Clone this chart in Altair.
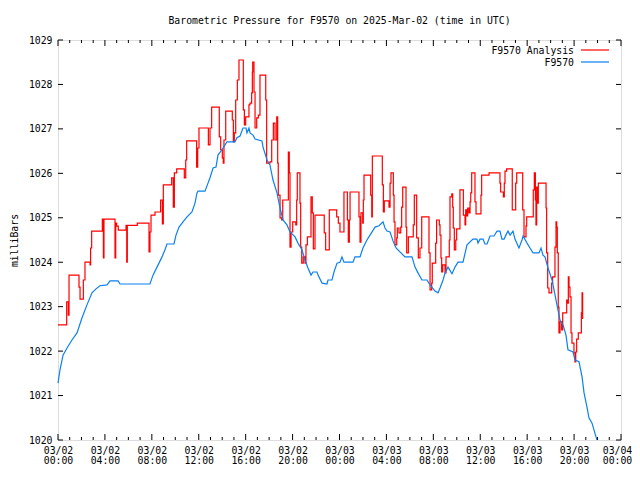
import altair as alt
import pandas as pd

FONT = "DejaVu Sans Mono"
FS = 9.8

# F9570 Analysis (step series): hours since 03/02 00:00 UTC, millibars
analysis_hours = [
    0, 0.74, 0.88, 0.94, 1.79, 1.88, 2.16, 2.30, 2.73, 2.78, 2.87, 3.78, 3.87, 3.92, 4.86, 4.92,
    5.00, 5.14, 5.80, 5.86, 5.91, 6.76, 7.76, 7.84, 7.93, 8.27, 8.75, 8.90, 8.98, 9.69, 9.83, 9.92,
    10.12, 10.77, 10.89, 10.97, 11.82, 11.91, 12.02, 12.82, 12.96, 13.10, 13.75, 13.87, 14.01, 14.09,
    14.15, 14.30, 14.86, 14.95, 15.03, 15.15, 15.29, 15.43, 15.80, 15.89, 16.00, 16.28, 16.37, 16.51,
    16.57, 16.60, 16.71, 16.80, 16.94, 17.08, 17.22, 17.71, 17.79, 18.07, 18.22, 18.36, 18.50, 18.65,
    18.73, 18.78, 18.93, 19.07, 19.16, 19.64, 19.72, 19.78, 19.87, 20.01, 20.27, 20.35, 20.40, 20.63,
    20.69, 20.78, 20.91, 21.06, 21.14, 21.26, 21.57, 21.68, 21.77, 21.91, 22.70, 22.82, 23.13, 23.76,
    23.90, 24.04, 24.38, 24.67, 24.75, 24.84, 24.90, 25.66, 25.75, 25.83, 25.98, 26.03, 26.09, 26.66,
    26.75, 26.80, 27.65, 27.74, 27.82, 28.22, 28.31, 28.39, 28.59, 28.65, 28.73, 28.88, 28.93, 29.07,
    29.22, 29.30, 29.39, 29.67, 29.73, 29.87, 30.29, 30.38, 30.58, 30.72, 30.86, 31.01, 31.63, 31.72,
    31.86, 31.91, 32.20, 32.28, 32.51, 32.57, 32.65, 32.71, 32.80, 33.00, 33.08, 33.36, 33.42, 33.57,
    33.65, 33.70, 33.79, 33.91, 33.99, 34.27, 34.56, 34.70, 34.76, 34.84, 34.93, 35.04, 35.13, 35.19,
    35.27, 35.55, 35.64, 36.06, 36.12, 36.75, 37.68, 37.74, 37.97, 38.05, 38.11, 38.25, 38.73, 39.02,
    39.11, 39.62, 39.73, 39.90, 39.96, 40.52, 40.61, 40.70, 40.75, 40.81, 40.86, 40.95, 41.61, 41.66,
    41.75, 41.86, 42.09, 42.17, 42.37, 42.46, 42.52, 42.57, 42.65, 42.71, 42.80, 42.94, 43.03, 43.37,
    43.42, 43.51, 43.57, 43.65, 43.74, 43.82, 43.99, 44.08, 44.14, 44.22, 44.36, 44.62, 44.68, 44.73,
]
analysis_mbar = [
    1022.59, 1023.11, 1022.81, 1023.71, 1023.44, 1023.17, 1023.60, 1024.00, 1023.94, 1024.32, 1024.70,
    1024.97, 1024.10, 1024.97, 1024.10, 1024.88, 1024.81, 1024.72, 1024.83, 1024.00, 1024.83, 1024.88,
    1024.23, 1024.68, 1025.06, 1025.13, 1025.40, 1024.86, 1025.74, 1025.90, 1025.24, 1026.01, 1026.10,
    1025.90, 1026.30, 1026.73, 1026.14, 1026.57, 1027.02, 1026.64, 1027.02, 1027.49, 1026.82, 1026.53,
    1026.35, 1026.23, 1026.75, 1027.40, 1027.20, 1026.71, 1026.91, 1027.65, 1028.10, 1028.55, 1027.43,
    1027.09, 1027.27, 1027.54, 1027.58, 1027.81, 1028.28, 1028.50, 1027.83, 1027.02, 1027.25, 1027.31,
    1028.21, 1027.65, 1026.23, 1026.26, 1026.75, 1027.13, 1026.75, 1027.27, 1026.23, 1025.51, 1025.00,
    1024.95, 1025.40, 1026.48, 1026.01, 1024.34, 1024.68, 1024.91, 1024.84, 1025.40, 1026.01, 1025.33,
    1024.34, 1023.98, 1024.12, 1023.98, 1024.39, 1024.57, 1025.47, 1025.11, 1024.30, 1025.06, 1024.66,
    1024.28, 1025.18, 1025.02, 1024.88, 1024.68, 1025.58, 1024.95, 1024.45, 1024.95, 1025.58, 1025.02,
    1024.45, 1025.11, 1024.88, 1025.40, 1025.96, 1025.51, 1025.02, 1026.39, 1025.74, 1025.13, 1025.38,
    1025.24, 1025.78, 1026.01, 1025.51, 1024.91, 1024.39, 1024.55, 1024.77, 1024.66, 1024.79, 1025.24,
    1025.69, 1024.79, 1024.21, 1024.57, 1024.84, 1025.51, 1024.55, 1024.10, 1024.32, 1025.02, 1024.21,
    1023.38, 1023.53, 1023.98, 1024.43, 1024.95, 1024.84, 1024.61, 1024.10, 1023.78, 1023.94, 1023.76,
    1024.12, 1024.50, 1025.47, 1025.54, 1025.24, 1024.77, 1024.28, 1024.50, 1024.75, 1025.63, 1025.06,
    1024.84, 1025.18, 1025.04, 1025.22, 1025.11, 1025.36, 1025.56, 1026.01, 1025.36, 1025.09, 1025.51,
    1025.96, 1026.01, 1025.78, 1025.58, 1025.47, 1025.78, 1026.05, 1026.10, 1025.18, 1025.78, 1026.01,
    1025.18, 1024.57, 1024.82, 1025.02, 1025.63, 1026.01, 1025.40, 1024.84, 1025.69, 1025.33, 1025.78,
    1025.22, 1024.21, 1023.42, 1023.31, 1023.53, 1023.67, 1024.34, 1024.91, 1024.79, 1024.21, 1022.99,
    1022.41, 1022.66, 1022.48, 1022.86, 1023.15, 1023.08, 1023.67, 1023.44, 1023.22, 1022.41, 1022.18,
    1021.96, 1021.76, 1021.98, 1022.27, 1022.41, 1022.86, 1023.31, 1022.72,
]

# F9570 observed
station_hours = [
    0, 0.17, 0.43, 0.77, 1.19, 1.62, 2.05, 2.47, 2.90, 3.24, 3.58, 4.18, 4.43, 5.12, 5.29, 7.84,
    8.10, 8.44, 8.87, 9.12, 9.29, 9.89, 10.06, 10.32, 10.66, 11.00, 11.42, 11.68, 11.85, 11.94, 12.53,
    12.79, 12.96, 13.22, 13.47, 13.64, 13.98, 14.24, 14.41, 15.09, 15.26, 15.52, 15.77, 16.03, 16.11,
    16.28, 16.37, 16.63, 16.80, 17.39, 17.48, 17.82, 18.07, 18.33, 18.67, 18.93, 19.18, 19.52, 19.78,
    20.21, 20.46, 20.80, 21.06, 21.31, 21.57, 21.74, 22.08, 22.17, 22.51, 22.93, 23.02, 23.36, 23.53,
    23.79, 24.04, 24.21, 24.38, 25.15, 25.32, 25.75, 26.00, 26.34, 26.60, 27.03, 27.37, 27.71, 27.88,
    28.05, 28.31, 28.56, 28.82, 29.58, 30.18, 30.44, 30.69, 31.03, 31.46, 31.72, 32.14, 32.40, 32.57,
    32.83, 33.00, 33.25, 33.59, 33.85, 34.10, 34.53, 34.87, 35.38, 35.72, 35.81, 35.98, 36.24, 36.40,
    36.58, 36.83, 37.17, 37.43, 37.68, 37.85, 38.03, 38.28, 38.37, 38.54, 38.79, 38.96, 39.30, 39.56,
    39.65, 39.99, 40.24, 40.50, 41.01, 41.18, 41.35, 41.52, 41.78, 42.12, 42.29, 42.54, 42.80, 43.06,
    43.31, 43.48, 43.91, 44.08, 44.42, 44.68, 44.85, 45.10, 45.27, 45.53, 45.87, 45.95,
]
station_mbar = [
    1021.28, 1021.58, 1021.91, 1022.07, 1022.25, 1022.41, 1022.75, 1023.04, 1023.31, 1023.40, 1023.47,
    1023.49, 1023.58, 1023.58, 1023.51, 1023.51, 1023.71, 1023.89, 1024.12, 1024.28, 1024.41, 1024.41,
    1024.61, 1024.79, 1024.91, 1025.02, 1025.13, 1025.33, 1025.56, 1025.60, 1025.60, 1025.78, 1025.90,
    1026.12, 1026.14, 1026.41, 1026.53, 1026.64, 1026.71, 1026.71, 1026.80, 1026.84, 1027.02, 1027.02,
    1026.91, 1027.02, 1026.91, 1026.86, 1026.77, 1026.73, 1026.59, 1026.30, 1026.19, 1025.85, 1025.56,
    1025.22, 1024.95, 1024.84, 1024.68, 1024.57, 1024.43, 1024.28, 1024.05, 1023.87, 1023.71, 1023.78,
    1023.78, 1023.71, 1023.53, 1023.51, 1023.60, 1023.60, 1023.78, 1023.98, 1024.00, 1024.12, 1024.00,
    1024.00, 1024.12, 1024.12, 1024.32, 1024.50, 1024.61, 1024.79, 1024.82, 1024.91, 1024.77, 1024.70,
    1024.68, 1024.48, 1024.32, 1024.12, 1024.12, 1023.89, 1023.76, 1023.60, 1023.60, 1023.49, 1023.35,
    1023.31, 1023.42, 1023.60, 1023.76, 1023.89, 1023.74, 1023.89, 1024.00, 1024.00, 1024.39, 1024.52,
    1024.52, 1024.43, 1024.52, 1024.52, 1024.41, 1024.41, 1024.59, 1024.59, 1024.70, 1024.70, 1024.52,
    1024.52, 1024.66, 1024.70, 1024.61, 1024.70, 1024.52, 1024.32, 1024.50, 1024.59, 1024.43, 1024.32,
    1024.21, 1024.21, 1024.32, 1024.16, 1024.12, 1023.87, 1023.60, 1023.38, 1023.04, 1022.70, 1022.59,
    1022.36, 1022.03, 1021.98, 1021.80, 1021.76, 1021.42, 1021.06, 1020.74, 1020.50, 1020.38, 1020.07,
    1020.00,
]

x_major = list(range(0, 49, 4))
x_minor = [h for h in range(0, 49) if h % 4 != 0]
y_ticks = list(range(1020, 1030))

W, H = 563, 400

analysis = pd.DataFrame({"h": analysis_hours, "p": analysis_mbar})
station = pd.DataFrame({"h": station_hours, "p": station_mbar})
xmaj = pd.DataFrame({"h": x_major})
xmin = pd.DataFrame({"h": x_minor})
yt = pd.DataFrame({"p": y_ticks})
one = pd.DataFrame({"k": [0]})

xscale = alt.Scale(domain=[0, 48], nice=False, zero=False)
yscale = alt.Scale(domain=[1020, 1029], nice=False, zero=False)

label_expr = ("['03/0' + (2 + floor(datum.value / 24)), "
              "(datum.value % 24 < 10 ? '0' : '') + (datum.value % 24) + ':00']")

x_axis = alt.Axis(values=x_major, labelExpr=label_expr, ticks=False, domain=False, grid=False,
                  labelFont=FONT, labelFontSize=FS, labelColor="black", labelPadding=5,
                  labelLineHeight=10, labelAngle=0, labelFlush=False, labelOverlap=False,
                  labelBaseline="top",
                  labelOffset={"condition": {"test": "datum.value == 48", "value": -4}, "value": 0},
                  title=None)
y_axis = alt.Axis(values=y_ticks, format="d", ticks=False, domain=False, grid=False,
                  labelFont=FONT, labelFontSize=FS, labelColor="black", labelPadding=6,
                  title="milliBars", titleFont=FONT, titleFontSize=FS, titleFontWeight="normal",
                  titleColor="black", titlePadding=9)

X = alt.X("h:Q", scale=xscale, axis=x_axis)
Y = alt.Y("p:Q", scale=yscale, axis=y_axis)

red_line = alt.Chart(analysis).mark_line(color="#ff0000", strokeWidth=1.2,
                                         interpolate="step-after").encode(x=X, y=Y)
blue_line = alt.Chart(station).mark_line(color="#0a80f0", strokeWidth=1.2).encode(x=X, y=Y)

def xticks(df, y0, y1):
    return alt.Chart(df).mark_rule(color="black", strokeWidth=1).encode(
        x=X, y=alt.value(y0), y2=alt.value(y1))

def yticks(x0, x1):
    return alt.Chart(yt).mark_rule(color="black", strokeWidth=1).encode(
        y=Y, x=alt.value(x0), x2=alt.value(x1))

ticks = [
    xticks(xmaj, H, H - 6), xticks(xmaj, 0, 6),
    xticks(xmin, H, H - 3), xticks(xmin, 0, 3),
    yticks(0, 5), yticks(W, W - 5),
]

def legend_entry(label, color, ypos):
    txt = alt.Chart(one).mark_text(align="right", baseline="middle", font=FONT,
                                   fontSize=FS, color="black").encode(
        x=alt.value(516), y=alt.value(ypos), text=alt.value(label))
    ln = alt.Chart(one).mark_rule(color=color, strokeWidth=1.2).encode(
        x=alt.value(523), x2=alt.value(551), y=alt.value(ypos - 0.5))
    return [txt, ln]

legend = legend_entry("F9570 Analysis", "#ff0000", 10.5) + legend_entry("F9570", "#0a80f0", 22.5)

chart = alt.layer(red_line, blue_line, *ticks, *legend).properties(
    width=W, height=H,
    title=alt.TitleParams("Barometric Pressure for F9570 on 2025-Mar-02 (time in UTC)",
                          font=FONT, fontSize=FS, fontWeight="normal", color="black",
                          anchor="middle", offset=9),
    autosize=alt.AutoSizeParams(type="none"),
    padding={"left": 50, "top": 32, "right": 11, "bottom": 26},
).configure_view(stroke="black", strokeWidth=1).configure(background="white")

chart.save("out.html", embed_options={"renderer": "svg", "actions": False})
